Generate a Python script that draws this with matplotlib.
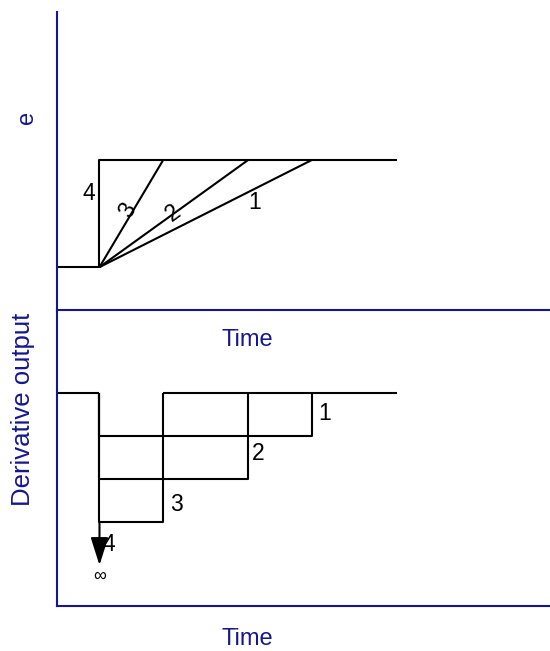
import matplotlib
matplotlib.use("Agg")
import matplotlib.pyplot as plt

# time at which the error starts to change, and when each ramp reaches full size
t_step = 1.0
ramp_end = [6.0, 4.5, 2.5]          # curves 1, 2, 3 (curve 4 is an ideal step)
t_end = 8.0
e_low, e_high = 0.0, 1.0

# derivative output: pulse depth per curve
pulse_level = [-1.0, -2.0, -3.0]    # curves 1, 2, 3
impulse_tip = -4.0                  # curve 4 -> infinite spike

top_labels = ["1", "2", "3", "4"]
top_label_pos = [(4.66, 0.60), (2.74, 0.50), (1.66, 0.53), (0.74, 0.69)]
top_label_rot = [0, 36, 60, 0]
bot_label_pos = [(6.3, -0.47), (4.73, -1.40), (2.80, -2.60), (1.21, -3.53)]

NAVY = "#16168e"
plt.rcParams["font.family"] = ["Liberation Sans", "DejaVu Sans"]

fig = plt.figure(figsize=(5.5, 6.51), dpi=100)
ax_top = fig.add_axes([0.1036, 0.5238, 0.8964, 0.4578])
ax_bot = fig.add_axes([0.1036, 0.0691, 0.8964, 0.4532])

for ax in (ax_top, ax_bot):
    ax.set_xlim(0, 11.6)
    for side in ("top", "right"):
        ax.spines[side].set_visible(False)
    for side in ("left", "bottom"):
        ax.spines[side].set_color(NAVY)
        ax.spines[side].set_linewidth(1.5)
    ax.set_xticks([])
    ax.set_yticks([])
    ax.patch.set_alpha(0)

ax_top.set_ylim(-0.40, 2.38)
ax_bot.set_ylim(-4.95, 1.91)

# --- top: error signal ---
kw = dict(color="black", linewidth=1.5, solid_capstyle="butt")
ax_top.plot([0, t_step, t_step, t_end], [e_low, e_low, e_high, e_high], **kw)
for te in ramp_end:
    ax_top.plot([t_step, te], [e_low, e_high], **kw)
for lab, (x, y), rot in zip(top_labels, top_label_pos, top_label_rot):
    ax_top.text(x, y, lab, fontsize=16.5, rotation=rot, ha="center", va="center")

# --- bottom: derivative output ---
ax_bot.plot([0, t_step], [0, 0], **kw)
ax_bot.plot([min(ramp_end), t_end], [0, 0], **kw)
for te, lvl in zip(ramp_end, pulse_level):
    ax_bot.plot([t_step, t_step, te, te], [0, lvl, lvl, 0], **kw)
ax_bot.annotate(
    "", xy=(t_step, impulse_tip), xytext=(t_step, min(pulse_level)),
    arrowprops=dict(arrowstyle="-|>,head_length=0.85,head_width=0.27",
                    mutation_scale=20, color="black", lw=1.5, shrinkA=0, shrinkB=0),
)
ax_bot.text(t_step, -4.26, "\u221e", fontsize=13, ha="center", va="center")
for lab, (x, y) in zip(top_labels, bot_label_pos):
    ax_bot.text(x, y, lab, fontsize=16.5, ha="center", va="center")

# --- axis labels ---
fig.text(27 / 550, 1 - 117 / 651, "e", rotation=90, color=NAVY, fontsize=17,
         ha="center", va="center")
fig.text(247 / 550, 1 - 340 / 651, "Time", color=NAVY, fontsize=17,
         ha="center", va="center")
fig.text(23 / 550, 1 - 409 / 651, "Derivative output", rotation=90, color=NAVY,
         fontsize=18.5, ha="center", va="center")
fig.text(247 / 550, 1 - 639 / 651, "Time", color=NAVY, fontsize=17,
         ha="center", va="center")

fig.savefig("out.png", dpi=100)
